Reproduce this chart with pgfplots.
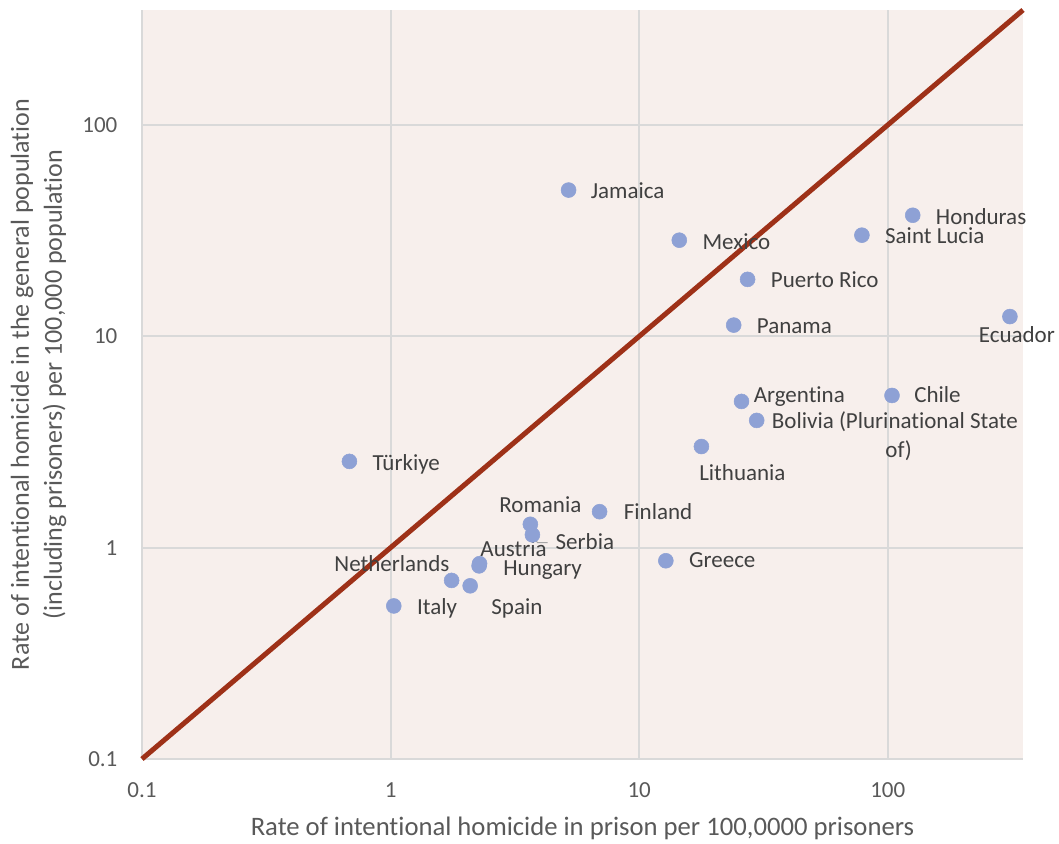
\documentclass[border=0pt]{standalone}
\usepackage{pgfplots}
\pgfplotsset{compat=1.18}
\usepackage{fontspec}
\setmainfont{Carlito}[Ligatures={NoCommon,NoRare,NoContextual}, Contextuals=NoAlternate]

\definecolor{bgc}{HTML}{F7EFEC}
\definecolor{gridc}{HTML}{D9D9D9}
\definecolor{linec}{HTML}{9E3118}
\definecolor{dotc}{HTML}{8EA1D5}
\definecolor{txtc}{HTML}{404040}
\definecolor{tickc}{HTML}{595959}

% break the t-i ligature of Carlito
\newcommand{\ti}{t\kern0pt i}

% label: x, y, anchor, dx (px), dy (px, up), text
\newcommand{\lbl}[6]{\node[anchor=#3, inner sep=0pt, text height=0.62em, text depth=0pt,
  text=txtc, xshift=#4*0.75pt, yshift=#5*0.75pt] at (axis cs:#1,#2) {#6};}

\begin{document}
\fontsize{17.25}{21}\selectfont
\begin{tikzpicture}
\useasboundingbox (-106.5pt,-63pt) rectangle (687.75pt,569.25pt);
\begin{axis}[
    at={(0pt,0pt)}, anchor=south west,
    scale only axis, width=660.75pt, height=561.75pt,
    xmode=log, ymode=log,
    xmin=0.1, xmax=350, ymin=0.1, ymax=350,
    xtick={0.1,1,10,100}, xticklabels={0.1,1,10,100},
    ytick={0.1,1,10,100}, yticklabels={0.1,1,10,100},
    xminorticks=false, yminorticks=false,
    major tick length=0pt,
    grid=major,
    major grid style={draw=gridc, line width=1.5pt},
    axis x line*=bottom, axis y line*=left,
    axis line style={draw=gridc, line width=1.5pt, -},
    axis background/.style={fill=bgc},
    tick label style={text=tickc},
    xticklabel style={yshift=-11.5pt},
    yticklabel style={xshift=-12.5pt},
    /pgf/number format/assume math mode=true,
    xlabel={Rate of inten\ti onal homicide in prison per 100,0000 prisoners},
    xlabel style={at={(axis description cs:0.5,-0.0921)}, anchor=center, text=tickc,
      font=\fontsize{20}{24}\selectfont, text height=0.62em, text depth=0pt},
    ylabel={Rate of inten\ti onal homicide in the general popula\ti on\\(including prisoners) per 100,000 popula\ti on},
    ylabel style={at={(axis description cs:-0.1174,0.5)}, anchor=center, align=center,
      text=tickc, font=\fontsize{19.5}{24.75}\selectfont},
    clip=false,
]
% diagonal y = x
\addplot[linec, line width=3.75pt, no marks] coordinates {(0.1,0.1) (350,350)};

% prison rate, general population rate
\addplot[only marks, color=dotc, mark=*, mark size=5.6pt, mark options={draw=dotc, fill=dotc}] table {
x      y
5.2    49.2
14.5   28.5
27.3   18.6
24.0   11.3
78.7   30.1
126    37.4
310    12.4
25.8   4.92
104    5.25
29.7   4.0
17.8   3.01
6.93   1.48
12.8   0.867
0.683  2.56
3.65   1.29
3.72   1.15
2.28   0.84
2.27   0.82
1.76   0.70
2.09   0.66
1.03   0.53
};

\draw[gray!70, line width=0.75pt] (axis cs:3.76,1.114) -- (axis cs:3.90,1.057) -- (axis cs:4.28,1.057);

\lbl{5.2}{49.2}{west}{22}{-1}{Jamaica}
\lbl{14.5}{28.5}{west}{23}{-2}{Mexico}
\lbl{27.3}{18.6}{west}{23}{-1}{Puerto Rico}
\lbl{24.0}{11.3}{west}{23}{-1}{Panama}
\lbl{78.7}{30.1}{west}{23}{-1}{Saint Lucia}
\lbl{126}{37.4}{west}{23}{-2}{Honduras}
\lbl{310}{12.4}{center}{7}{-19}{Ecuador}
\lbl{25.8}{4.92}{west}{12}{6}{Argen\ti na}
\lbl{104}{5.25}{west}{22}{0}{Chile}
\lbl{29.7}{4.0}{west}{15}{-1}{Bolivia (Plurina\ti onal State}
\lbl{29.7}{4.0}{center}{142}{-30}{of)}
\lbl{17.8}{3.01}{center}{41}{-26.5}{Lithuania}
\lbl{6.93}{1.48}{west}{24}{-1}{Finland}
\lbl{12.8}{0.867}{west}{23}{0}{Greece}
\lbl{0.683}{2.56}{west}{23}{-1.5}{Türkiye}
\lbl{3.65}{1.29}{center}{10}{18.5}{Romania}
\lbl{3.72}{1.15}{west}{23}{-7.5}{Serbia}
\lbl{2.28}{0.84}{center}{34}{14}{Austria}
\lbl{2.27}{0.82}{west}{24}{-2}{Hungary}
\lbl{1.76}{0.70}{east}{-2}{16.5}{Netherlands}
\lbl{2.09}{0.66}{west}{21}{-21.5}{Spain}
\lbl{1.03}{0.53}{west}{23}{-1.5}{Italy}
\end{axis}
\end{tikzpicture}
\end{document}
